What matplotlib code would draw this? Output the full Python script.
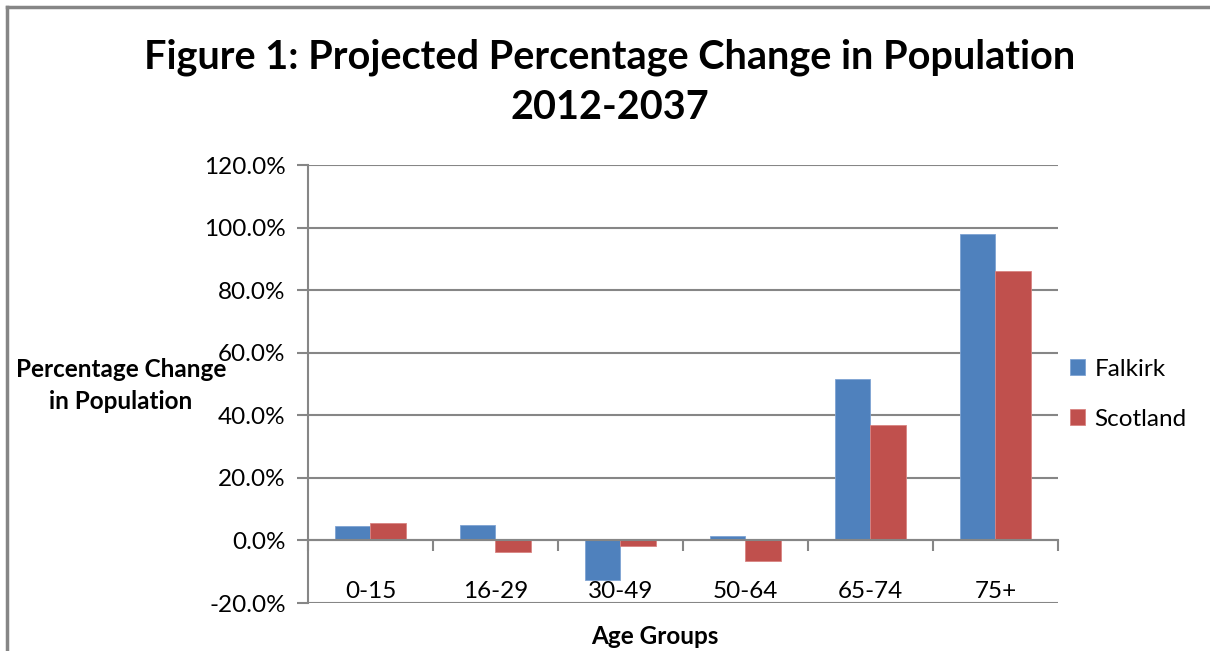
import numpy as np
import matplotlib.pyplot as plt
from matplotlib.lines import Line2D
from matplotlib.ticker import FixedLocator

plt.rcParams['font.family'] = ['Lato', 'DejaVu Sans']

# Data
# ----

groups = ['0-15', '16-29', '30-49', '50-64', '65-74', '75+']
falkirk = [4.6, 5.0, -12.6, 1.3, 51.6, 97.8]
scotland = [5.5, -3.8, -1.9, -6.5, 36.8, 86.1]

blue = '#4f81bd'
red = '#c0504d'
grey = '#868686'

# Figure
# ------

fig = plt.figure(figsize=(12.1, 6.51), dpi=100)
ax = fig.add_axes([0.2545, 0.0737, 0.6198, 0.6728])

x = np.arange(len(groups))
w = 0.284
ax.bar(x - w/2, falkirk, w, color=blue, edgecolor='#7ea3d3', lw=0.6,
       label='Falkirk', zorder=2)
ax.bar(x + w/2, scotland, w, color=red, edgecolor='#d98482', lw=0.6,
       label='Scotland', zorder=2)

# axes limits and grid
ax.set_xlim(-0.5, len(groups) - 0.5)
ax.set_ylim(-20, 120)
ax.set_yticks(np.arange(-20, 121, 20))
ax.set_yticklabels(['{:.1f}%'.format(v) for v in np.arange(-20, 121, 20)],
                   fontsize=17.5)
ax.grid(axis='y', color=grey, lw=1.5, zorder=0)
ax.tick_params(axis='y', length=8, width=1.5, color=grey, pad=8)

# category axis on the zero line
for side in ('top', 'right'):
    ax.spines[side].set_visible(False)
ax.spines['left'].set_color(grey)
ax.spines['left'].set_linewidth(1.5)
ax.spines['bottom'].set_position(('data', 0))
ax.spines['bottom'].set_color(grey)
ax.spines['bottom'].set_linewidth(1.5)
ax.xaxis.set_major_locator(FixedLocator(np.arange(-0.5, len(groups))))
ax.xaxis.set_minor_locator(FixedLocator(x))
ax.xaxis.set_major_formatter(plt.NullFormatter())
ax.set_xticks(x, groups, minor=True, fontsize=17.5)
ax.tick_params(axis='x', which='major', length=8, width=1.5, color=grey)
ax.tick_params(axis='x', which='minor', length=0, pad=29)

# labels
fig.text(0.504, 0.874, 'Figure 1: Projected Percentage Change in Population\n2012-2037',
         ha='center', va='center', fontsize=28.5, fontweight='bold',
         linespacing=1.42)
fig.text(0.1, 0.408, 'Percentage Change\nin Population', ha='center',
         va='center', fontsize=17.5, fontweight='bold', linespacing=1.45)
fig.text(0.541, 0.023, 'Age Groups', ha='center', va='center',
         fontsize=17.5, fontweight='bold')

ax.legend(loc='center left', bbox_to_anchor=(1.0, 0.477), frameon=False,
          fontsize=17.5, handlelength=0.6, handleheight=0.6,
          handletextpad=0.4, labelspacing=1.2, borderaxespad=0.1)

# chart frame
fig.add_artist(Line2D([0.006, 0.006], [0, 0.989], color=grey, lw=2.5))
fig.add_artist(Line2D([0.006, 1], [0.989, 0.989], color=grey, lw=2.5))

fig.savefig('out.png', dpi=100)
